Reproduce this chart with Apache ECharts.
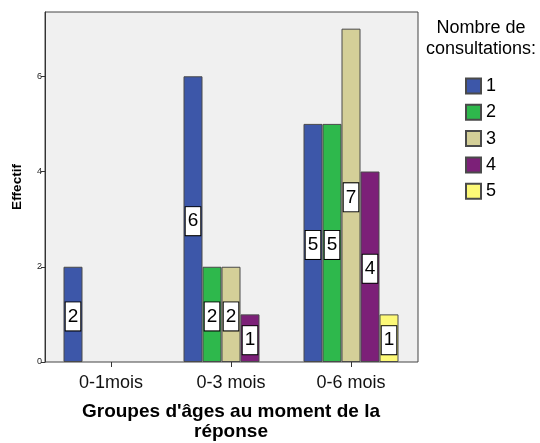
<!DOCTYPE html>
<html>
<head>
<meta charset="utf-8">
<script src="https://cdn.jsdelivr.net/npm/echarts@6/dist/echarts.min.js"></script>
<style>
html,body{margin:0;padding:0;background:#fff;}
#chart{width:540px;height:443px;}
</style>
</head>
<body>
<div id="chart"></div>
<script>
const categories = ['0-1mois', '0-3 mois', '0-6 mois'];
const seriesNames = ['1', '2', '3', '4', '5'];
const consult1 = [2, 6, 5];
const consult2 = [0, 2, 5];
const consult3 = [0, 2, 7];
const consult4 = [0, 1, 4];
const consult5 = [0, 0, 1];
const yTicks = [0, 2, 4, 6];
const colors = ['#3d57a9', '#2eb84c', '#d4cf98', '#7c2078', '#fdf977'];

const values = [consult1, consult2, consult3, consult4, consult5];
const FONT = 'Liberation Sans, Arial, sans-serif';

const chart = echarts.init(document.getElementById('chart'), null, {renderer: 'canvas'});

const series = values.map((vals, i) => ({
  name: seriesNames[i],
  type: 'bar',
  xAxisIndex: 1,
  yAxisIndex: 1,
  barWidth: 19,
  barGap: '0%',
  data: vals.map(v => (v === 0 ? null : v)),
  itemStyle: {color: colors[i], borderColor: '#4a4a4a', borderWidth: 1},
  label: {
    show: true,
    position: 'inside',
    formatter: '{c}',
    fontFamily: FONT,
    fontSize: 19,
    lineHeight: 20,
    color: '#000',
    backgroundColor: '#fff',
    borderColor: '#000',
    borderWidth: 1,
    padding: [4, 2, 4, 2],
    offset: [0, 2]
  },
  emphasis: {disabled: true}
}));

const option = {
  animation: false,
  backgroundColor: '#fff',
  textStyle: {fontFamily: FONT},
  title: {
    text: 'Nombre de\nconsultations:',
    left: 481,
    top: 18,
    textAlign: 'center',
    textStyle: {fontFamily: FONT, fontSize: 18, fontWeight: 'normal', color: '#000', lineHeight: 21},
    padding: 0
  },
  legend: {
    orient: 'vertical',
    left: 465,
    top: 77,
    padding: 0,
    itemWidth: 15,
    itemHeight: 15,
    itemGap: 8.3,
    icon: 'rect',
    textStyle: {fontFamily: FONT, fontSize: 18, color: '#000'},
    data: seriesNames
  },
  grid: [
    {left: 45, top: 12, width: 373, height: 350, show: true, backgroundColor: '#f0f0f0', borderColor: '#444', borderWidth: 1, outerBoundsMode: 'none', containLabel: false},
    {left: 51, top: 12, width: 360, height: 350, outerBoundsMode: 'none', containLabel: false}
  ],
  xAxis: [
    {gridIndex: 0, type: 'value', min: 0, max: 1, show: false},
    {
      gridIndex: 1,
      type: 'category',
      data: categories,
      axisLine: {show: false},
      axisTick: {show: true, alignWithLabel: true, length: 5, lineStyle: {color: '#333'}},
      axisLabel: {fontFamily: FONT, fontSize: 18, color: '#111', margin: 12},
      name: "Groupes d'âges au moment de la\nréponse",
      nameLocation: 'middle',
      nameGap: 40,
      nameTextStyle: {fontFamily: FONT, fontSize: 19, fontWeight: 'bold', color: '#000', lineHeight: 20}
    }
  ],
  yAxis: [
    {
      gridIndex: 0,
      type: 'value',
      min: 0,
      max: 7.35,
      interval: 2,
      splitLine: {show: false},
      axisLine: {show: true, lineStyle: {color: '#333'}},
      axisTick: {show: true, length: 4, customValues: yTicks, lineStyle: {color: '#333'}},
      axisLabel: {fontFamily: FONT, fontSize: 9, color: '#222', margin: 3, customValues: yTicks},
      name: 'Effectif',
      nameLocation: 'middle',
      nameGap: 21,
      nameTextStyle: {fontFamily: FONT, fontSize: 13.5, fontWeight: 'bold', color: '#000'}
    },
    {gridIndex: 1, type: 'value', min: 0, max: 7.35, show: false}
  ],
  series: series
};

chart.setOption(option);
</script>
</body>
</html>
